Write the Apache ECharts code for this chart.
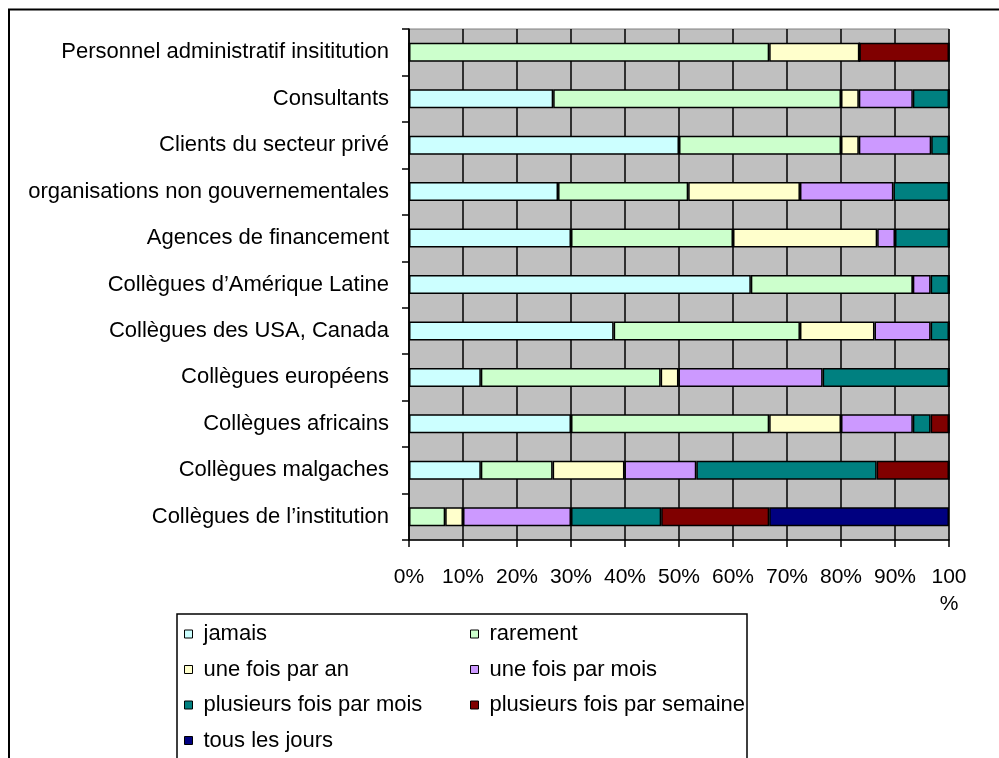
<!DOCTYPE html>
<html>
<head>
<meta charset="utf-8">
<script src="https://cdn.jsdelivr.net/npm/echarts@6/dist/echarts.min.js"></script>
<style>
  html, body { margin: 0; padding: 0; background: #fff; }
  #chart { width: 999px; height: 758px; }
</style>
</head>
<body>
<div id="chart"></div>
<script>
// catégories, de haut en bas
var categories = [
  'Personnel administratif insititution',
  'Consultants',
  'Clients du secteur privé',
  'organisations non gouvernementales',
  'Agences de financement',
  'Collègues d’Amérique Latine',
  'Collègues des USA, Canada',
  'Collègues européens',
  'Collègues africains',
  'Collègues malgaches',
  'Collègues de l’institution'
]

// pourcentages par fréquence (même ordre que categories)
var jamais = [0, 26.7, 50, 27.6, 30, 63.3, 37.9, 13.3, 30, 13.3, 0]
var rarement = [66.7, 53.3, 30, 24.1, 30, 30, 34.5, 33.3, 36.7, 13.3, 6.7]
var uneFoisParAn = [16.7, 3.3, 3.3, 20.7, 26.7, 0, 13.8, 3.3, 13.3, 13.3, 3.3]
var uneFoisParMois = [0, 10, 13.4, 17.3, 3.3, 3.3, 10.4, 26.7, 13.3, 13.3, 20]
var plusieursParMois = [0, 6.7, 3.3, 10.3, 10, 3.4, 3.4, 23.4, 3.3, 33.4, 16.7]
var plusieursParSemaine = [16.6, 0, 0, 0, 0, 0, 0, 0, 3.4, 13.4, 20]
var tousLesJours = [0, 0, 0, 0, 0, 0, 0, 0, 0, 0, 33.3]

var xTicks = [0, 10, 20, 30, 40, 50, 60, 70, 80, 90, 100]

var font = "'Liberation Sans', Arial, sans-serif"

function serie(name, color, data) {
  return {
    name: name,
    type: 'bar',
    stack: 'total',
    barWidth: 19,
    itemStyle: { color: color, borderColor: '#000', borderWidth: 1.5 },
    data: data
  }
}

function legende(left, items) {
  return {
    orient: 'vertical',
    left: left, top: 623,
    height: 160,
    padding: 0,
    itemWidth: 8, itemHeight: 8, itemGap: 13.5,
    icon: 'rect',
    itemStyle: { borderColor: '#000', borderWidth: 1 },
    textStyle: { fontSize: 22, lineHeight: 22, color: '#000', fontFamily: font, padding: [0, 0, 0, 6] },
    data: items
  }
}

var myChart = echarts.init(document.getElementById('chart'))
const option = {
  animation: false,
  textStyle: { fontFamily: font, color: '#000' },
  grid: {
    left: 409, top: 29, right: 50, bottom: 218,
    show: true,
    backgroundColor: '#C0C0C0',
    borderColor: '#808080',
    borderWidth: 1
  },
  xAxis: {
    type: 'value',
    min: xTicks[0],
    max: xTicks[xTicks.length - 1],
    interval: 10,
    axisLine: { show: true, lineStyle: { color: '#000', width: 1.5 } },
    axisTick: { show: true, length: 7, lineStyle: { color: '#000', width: 1.5 } },
    splitLine: { show: true, lineStyle: { color: '#000', width: 1.5 } },
    axisLabel: {
      margin: 24,
      fontSize: 21,
      lineHeight: 27,
      color: '#000',
      fontFamily: font,
      formatter: function (v) { return v === 100 ? '100\n%' : v + '%' }
    }
  },
  yAxis: {
    type: 'category',
    inverse: true,
    data: categories,
    axisLine: { show: true, lineStyle: { color: '#000', width: 1.5 } },
    axisTick: { show: true, length: 7, lineStyle: { color: '#000', width: 1.5 } },
    splitLine: { show: false },
    axisLabel: { interval: 0, margin: 20, fontSize: 22, color: '#000', fontFamily: font }
  },
  legend: [
    legende(184, ['jamais', 'une fois par an', 'plusieurs fois par mois', 'tous les jours']),
    legende(470, ['rarement', 'une fois par mois', 'plusieurs fois par semaine'])
  ],
  graphic: [
    // cadre du graphique
    { type: 'rect', silent: true, z: -1, shape: { x: 9, y: 9.5, width: 1000, height: 800 },
      style: { fill: null, stroke: '#000', lineWidth: 2 } },
    // cadre de la légende
    { type: 'rect', silent: true, z: -1, shape: { x: 177, y: 614, width: 570, height: 200 },
      style: { fill: null, stroke: '#000', lineWidth: 1.5 } }
  ],
  series: [
    serie('jamais', '#CCFFFF', jamais),
    serie('rarement', '#CCFFCC', rarement),
    serie('une fois par an', '#FFFFCC', uneFoisParAn),
    serie('une fois par mois', '#CC99FF', uneFoisParMois),
    serie('plusieurs fois par mois', '#008080', plusieursParMois),
    serie('plusieurs fois par semaine', '#800000', plusieursParSemaine),
    serie('tous les jours', '#000080', tousLesJours)
  ]
}
myChart.setOption(option)
</script>
</body>
</html>
